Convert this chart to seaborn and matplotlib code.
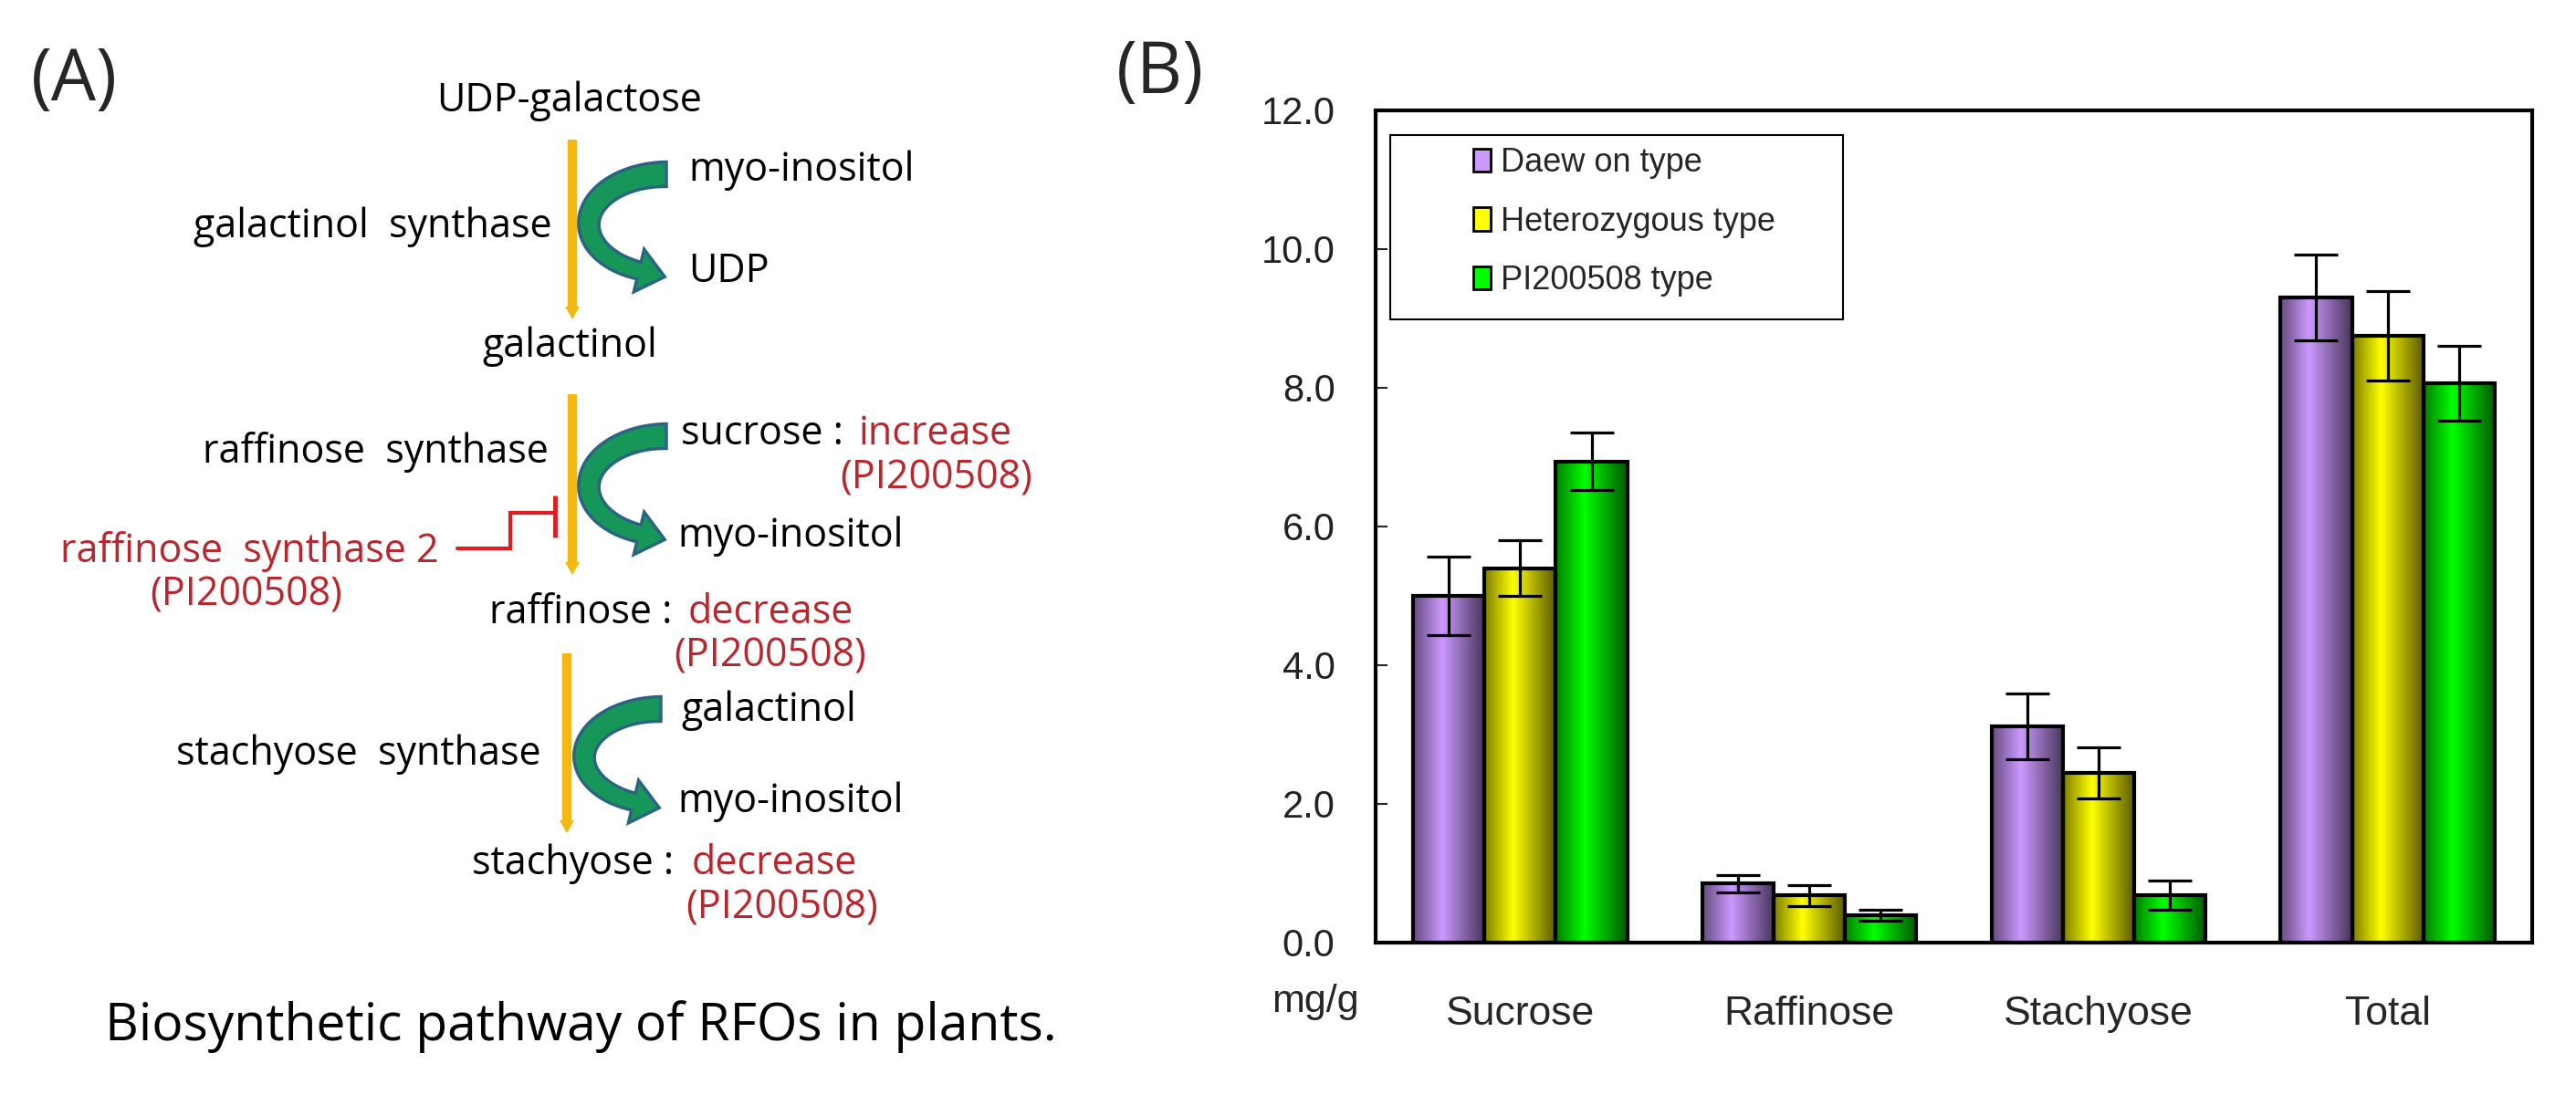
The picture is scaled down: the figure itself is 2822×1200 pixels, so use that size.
import numpy as np
import pandas as pd
import matplotlib
matplotlib.use("Agg")
import matplotlib.pyplot as plt
import seaborn as sns
from matplotlib.patches import Rectangle, Polygon
from matplotlib.colors import to_rgb

# chart values (mg/g)
categories = ["Sucrose", "Raffinose", "Stachyose", "Total"]
groups = ["Daew on type", "Heterozygous type", "PI200508 type"]
daewon = [5.0, 0.85, 3.12, 9.3]
hetero = [5.4, 0.68, 2.45, 8.75]
pi200508 = [6.94, 0.40, 0.68, 8.07]
daewon_sd = [0.57, 0.13, 0.47, 0.62]
hetero_sd = [0.40, 0.15, 0.37, 0.65]
pi200508_sd = [0.42, 0.08, 0.21, 0.54]
yticks = [0, 2, 4, 6, 8, 10, 12]

bar_colors = ["#CC99FF", "#FFFF00", "#00FF00"]

sns.set_style("white")
plt.rcParams["font.family"] = ["Liberation Sans Narrow", "Liberation Sans", "DejaVu Sans"]
diag_font = ["Open Sans", "DejaVu Sans"]

W, H = 2822, 1200
fig = plt.figure(figsize=(W / 100, H / 100), dpi=100)

# ---------------- panel A: pathway drawn in pixel coords ----------------
dg = fig.add_axes([0, 0, 1, 1])
dg.set_xlim(0, W)
dg.set_ylim(H, 0)
dg.axis("off")

YEL = "#F5B810"
RED_TXT = "#B8262E"
RED_LN = "#E01B22"
GRN = "#17965A"
GRN_EDGE = "#2B6480"
fs = 31


def txt(x, y, s, color="black", ha="left", size=fs):
    dg.text(x, y, s, color=color, ha=ha, va="center", fontsize=size, family=diag_font)


def down_arrow(x, y0, y1):
    dg.plot([x, x], [y0, y1 - 8], color=YEL, lw=7.5, solid_capstyle="butt")
    dg.fill([x - 8, x + 8, x], [y1 - 12, y1 - 12, y1 + 2], color=YEL, lw=0)


def curved_arrow(y_top, y_bot, x_end=730, x_left=645):
    cy = (y_top + y_bot) / 2
    ry = (y_bot - y_top) / 2
    rx = x_end - x_left
    s_end = np.pi - np.arcsin(30 / rx)
    s = np.linspace(0, s_end, 80)
    mx = x_end - rx * np.sin(s)
    my = cy - ry * np.cos(s)
    tx = -rx * np.cos(s)
    ty = ry * np.sin(s)
    nrm = np.hypot(tx, ty)
    tx, ty = tx / nrm, ty / nrm
    nx, ny = -ty, tx
    w = np.linspace(27, 19, len(s)) / 2
    outer = np.column_stack([mx + w * nx, my + w * ny])
    inner = np.column_stack([mx - w * nx, my - w * ny])
    hw = 24
    base_o = [mx[-1] + hw * nx[-1], my[-1] + hw * ny[-1]]
    base_i = [mx[-1] - hw * nx[-1], my[-1] - hw * ny[-1]]
    tip = [mx[-1] + 29 * tx[-1], my[-1] + 29 * ty[-1]]
    pts = np.vstack([outer, [base_o, tip, base_i], inner[::-1]])
    dg.add_patch(Polygon(pts, closed=True, fc=GRN, ec=GRN_EDGE, lw=2.5, joinstyle="miter"))


dg.text(81, 90, "(A)", ha="center", va="center", fontsize=56, family=diag_font)
dg.text(1271, 82, "(B)", ha="center", va="center", fontsize=56, family=diag_font)

txt(624, 111, "UDP-galactose", ha="center")
down_arrow(627, 153, 348)
curved_arrow(191, 300)
txt(754, 187, "myo-inositol")
txt(605, 249, "galactinol  synthase", ha="right")
txt(754, 298, "UDP")
txt(624, 380, "galactinol", ha="center")

down_arrow(627, 432, 628)
curved_arrow(478, 588)
txt(746, 476, "sucrose :")
txt(941, 476, "increase", color=RED_TXT)
txt(1131, 524, "(PI200508)", color=RED_TXT, ha="right")
txt(601, 496, "raffinose  synthase", ha="right")
txt(742, 588, "myo-inositol")
# inhibition line from raffinose synthase 2
dg.plot([501, 559, 559, 608], [601, 601, 562, 562], color=RED_LN, lw=3, solid_joinstyle="miter")
dg.plot([608, 608], [543, 589], color=RED_LN, lw=3.5, solid_capstyle="butt")
txt(481, 605, "raffinose  synthase 2", color=RED_TXT, ha="right")
txt(270, 652, "(PI200508)", color=RED_TXT, ha="center")
txt(536, 672, "raffinose :")
txt(754, 672, "decrease", color=RED_TXT)
txt(949, 719, "(PI200508)", color=RED_TXT, ha="right")

down_arrow(621, 716, 911)
curved_arrow(777, 882, x_end=724, x_left=640)
txt(746, 779, "galactinol")
txt(593, 827, "stachyose  synthase", ha="right")
txt(742, 879, "myo-inositol")
txt(517, 947, "stachyose :")
txt(758, 947, "decrease", color=RED_TXT)
txt(962, 995, "(PI200508)", color=RED_TXT, ha="right")

txt(636, 1125, "Biosynthetic pathway of RFOs in plants.", ha="center", size=41)

# ---------------- panel B: bar chart ----------------
left, right, top, bottom = 1507, 2774, 121, 1033
ax = fig.add_axes([left / W, (H - bottom) / H, (right - left) / W, (bottom - top) / H])

df = pd.DataFrame({
    "category": categories * 3,
    "group": np.repeat(groups, len(categories)),
    "value": daewon + hetero + pi200508,
})
sds = [daewon_sd, hetero_sd, pi200508_sd]

sns.barplot(data=df, x="category", y="value", hue="group", order=categories,
            hue_order=groups, palette=bar_colors, width=0.74, errorbar=None,
            edgecolor="black", linewidth=3, legend=False, ax=ax, zorder=2)

# cylinder-like shading across each bar
prof = np.interp(np.linspace(0, 1, 64), [0, 0.4, 1], [0.5, 1.0, 0.35])
bar_conts = list(ax.containers)
for i, cont in enumerate(bar_conts):
    base = np.array(to_rgb(bar_colors[i]))
    grad = (prof[:, None] * base[None, :])[None, :, :]
    xs = []
    for p in cont.patches:
        x0, y0, w, h = p.get_x(), p.get_y(), p.get_width(), p.get_height()
        p.set_facecolor("none")
        im = ax.imshow(grad, extent=[x0, x0 + w, y0, y0 + h], aspect="auto",
                       interpolation="bilinear", zorder=1.5)
        im.set_clip_path(p)
        xs.append(x0 + w / 2)
    vals = df[df["group"] == groups[i]]["value"].values
    ax.errorbar(xs, vals, yerr=sds[i], fmt="none", ecolor="black", elinewidth=2.3,
                capsize=17, capthick=2.3, zorder=3)

ax.set_xlim(-0.5, 3.5)
ax.set_ylim(0, 12)
ax.set_yticks(yticks)
ax.set_yticklabels([f"{v:.1f}" for v in yticks], fontsize=30, color="#222222")
ax.set_xticks(range(len(categories)))
ax.set_xticklabels(categories, fontsize=32)
ax.set_xticks([0.5, 1.5, 2.5], minor=True)
ax.tick_params(axis="x", which="major", length=0, pad=42)
ax.tick_params(axis="x", which="minor", direction="in", length=11, width=1.5)
ax.tick_params(axis="y", direction="in", length=9, width=1.5, pad=32, left=True)
ax.set_xlabel("")
ax.set_ylabel("")
for sp in ax.spines.values():
    sp.set_visible(True)
    sp.set_linewidth(3)
    sp.set_color("black")

ax.text(-0.052, -0.071, "mg/g", transform=ax.transAxes, fontsize=31, ha="center", va="center")

# legend box and entries
ax.add_patch(Rectangle((0.0126, 0.749), 0.3915, 0.2215, transform=ax.transAxes,
                       fill=False, ec="black", lw=1.5, zorder=4))
handles = [Rectangle((0, 0), 1, 1, fc=c, ec="black", lw=2) for c in bar_colors]
ax.legend(handles, groups, loc="upper left", bbox_to_anchor=(0.0845, 0.956),
          frameon=False, fontsize=26, handlelength=0.53, handleheight=0.7,
          handletextpad=0.3, labelspacing=0.82, borderaxespad=0, borderpad=0)

fig.savefig("out.png", dpi=100, facecolor="white")
